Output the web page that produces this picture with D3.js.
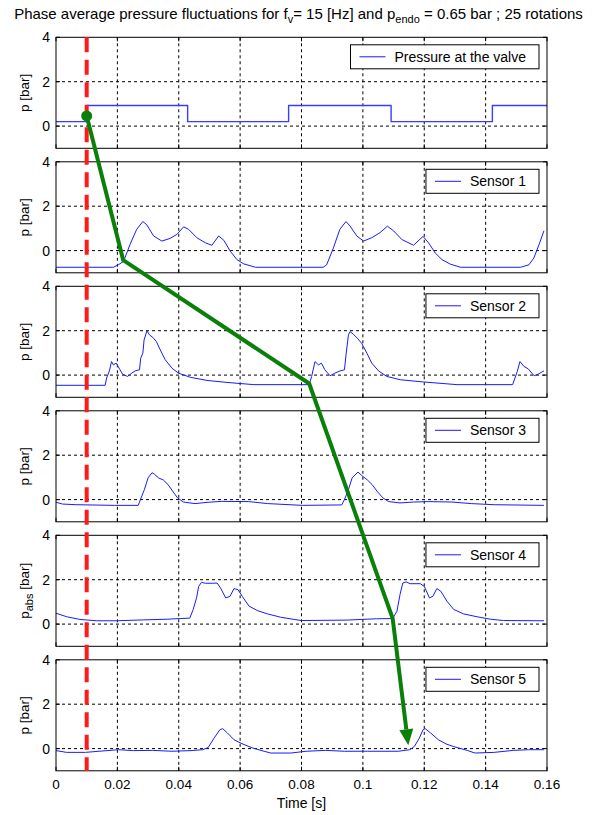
<!DOCTYPE html>
<html>
<head>
<meta charset="utf-8">
<script src="https://cdn.jsdelivr.net/npm/d3@7"></script>
<style>
  body { margin: 0; background: #fff; }
  text { font-family: "Liberation Sans", Arial, Helvetica, sans-serif; fill: #000; }
</style>
</head>
<body>
<svg id="chart" width="600" height="815"></svg>
<script>
// ---- data -------------------------------------------------------------
const timeTicks = [0, 0.02, 0.04, 0.06, 0.08, 0.1, 0.12, 0.14, 0.16];
const timeTickLabels = ["0", "0.02", "0.04", "0.06", "0.08", "0.1", "0.12", "0.14", "0.16"];
const pressureTicks = [0, 2, 4];
const pressureTickLabels = ["0", "2", "4"];
const legendNames = ["Pressure at the valve", "Sensor 1", "Sensor 2", "Sensor 3", "Sensor 4", "Sensor 5"];

// valve command (step signal) [time s, pressure bar]
const valve = [[0, 0.2], [0.0102, 0.93], [0.0429, 0.2], [0.0758, 0.93], [0.1092, 0.2], [0.1422, 0.93], [0.16, 0.93]];

const sensor1 = [[0, -0.75], [0.0187, -0.75], [0.0203, -0.64], [0.022, -0.49], [0.0241, 0.27], [0.0263, 0.96],
  [0.0283, 1.31], [0.0296, 1.16], [0.0318, 0.66], [0.0345, 0.43], [0.0372, 0.55], [0.0394, 0.73],
  [0.0416, 1.07], [0.0432, 0.96], [0.0459, 0.58], [0.0487, 0.35], [0.0508, 0.24], [0.053, 0.66],
  [0.0547, 0.46], [0.0568, -0.03], [0.059, -0.41], [0.0612, -0.6], [0.065, -0.75], [0.0871, -0.75],
  [0.0882, -0.64], [0.0904, 0.12], [0.0925, 0.96], [0.0945, 1.31], [0.0958, 1.11], [0.098, 0.66],
  [0.1002, 0.43], [0.1029, 0.58], [0.1056, 0.81], [0.108, 1.1], [0.11, 0.89], [0.1127, 0.5],
  [0.1165, 0.24], [0.1196, 0.64], [0.1214, 0.35], [0.1236, -0.11], [0.1258, -0.41], [0.1285, -0.61],
  [0.1318, -0.75], [0.1514, -0.75], [0.1541, -0.64], [0.1557, -0.34], [0.1574, 0.27], [0.159, 0.89]];

const sensor2 = [[0, -0.46], [0.016, -0.46], [0.0165, -0.13], [0.0174, 0.19], [0.0181, 0.61], [0.0187, 0.46],
  [0.0196, 0.54], [0.0207, 0.28], [0.0217, 0.04], [0.0233, -0.06], [0.0247, 0.09], [0.0258, 0.19],
  [0.0272, 0.24], [0.0276, 0.76], [0.0283, 0.99], [0.0287, 1.58], [0.0296, 1.99], [0.0305, 1.81],
  [0.0316, 1.69], [0.0327, 1.51], [0.034, 1.13], [0.0356, 0.69], [0.0378, 0.31], [0.0399, 0.09],
  [0.0438, -0.1], [0.0492, -0.24], [0.0557, -0.33], [0.0645, -0.43], [0.0825, -0.43], [0.0833, -0.06],
  [0.0844, 0.61], [0.0855, 0.46], [0.0865, 0.54], [0.0876, 0.24], [0.0893, -0.03], [0.0909, 0.09],
  [0.0926, 0.19], [0.094, 0.24], [0.0945, 0.91], [0.0953, 1.81], [0.0958, 1.96], [0.0969, 1.84],
  [0.0982, 1.66], [0.0996, 1.43], [0.1013, 0.99], [0.1029, 0.54], [0.1051, 0.19], [0.1078, -0.06],
  [0.1122, -0.21], [0.1198, -0.31], [0.1307, -0.43], [0.1488, -0.43], [0.1503, 0.16], [0.1512, 0.61],
  [0.1525, 0.39], [0.1539, 0.28], [0.1558, -0.03], [0.1571, 0.04], [0.159, 0.19]];

const sensor3 = [[0, -0.12], [0.0021, -0.2], [0.0065, -0.23], [0.019, -0.26], [0.0268, -0.26], [0.0275, 0],
  [0.0288, 0.45], [0.03, 0.98], [0.0313, 1.21], [0.0321, 1.14], [0.0334, 0.98], [0.035, 0.88],
  [0.0365, 0.68], [0.038, 0.38], [0.0396, 0.08], [0.0415, -0.11], [0.0453, -0.18], [0.0496, -0.12],
  [0.054, -0.08], [0.0628, -0.09], [0.069, -0.18], [0.0803, -0.26], [0.0931, -0.24], [0.094, 0],
  [0.0953, 0.45], [0.0965, 0.98], [0.0984, 1.24], [0.0996, 1.09], [0.1015, 0.88], [0.103, 0.68],
  [0.1046, 0.38], [0.1065, 0.08], [0.1084, -0.09], [0.1121, -0.15], [0.1165, -0.11], [0.1215, -0.09],
  [0.129, -0.11], [0.1353, -0.18], [0.1428, -0.23], [0.159, -0.26]];

const sensor4 = [[0, 0.49], [0.0035, 0.33], [0.0078, 0.21], [0.0133, 0.15], [0.0198, 0.15], [0.0286, 0.19],
  [0.0362, 0.22], [0.0405, 0.25], [0.0436, 0.27], [0.0447, 0.66], [0.0458, 1.18], [0.0465, 1.7],
  [0.0474, 1.88], [0.0487, 1.84], [0.0509, 1.84], [0.0525, 1.85], [0.0536, 1.63], [0.0553, 1.18],
  [0.0567, 1.25], [0.058, 1.6], [0.0593, 1.55], [0.0607, 1.25], [0.0629, 0.81], [0.0656, 0.61],
  [0.0689, 0.46], [0.0732, 0.31], [0.0776, 0.21], [0.08, 0.16], [0.0947, 0.18], [0.1045, 0.24],
  [0.1097, 0.25], [0.1111, 0.58], [0.1121, 1.33], [0.113, 1.85], [0.1141, 1.9], [0.1154, 1.82],
  [0.1187, 1.82], [0.12, 1.7], [0.1217, 1.18], [0.1228, 1.25], [0.1241, 1.6], [0.1254, 1.48],
  [0.1274, 1.03], [0.1296, 0.66], [0.1328, 0.46], [0.1372, 0.33], [0.1416, 0.22], [0.1459, 0.16],
  [0.159, 0.15]];

const sensor5 = [[0, -0.09], [0.0034, -0.17], [0.0096, -0.17], [0.014, -0.12], [0.0203, -0.05], [0.0253, -0.09],
  [0.0315, -0.08], [0.0378, -0.12], [0.044, -0.09], [0.0478, -0.05], [0.0496, 0.05], [0.0515, 0.47],
  [0.0534, 0.85], [0.0543, 0.9], [0.0559, 0.7], [0.058, 0.4], [0.0603, 0.24], [0.064, 0.03],
  [0.0678, -0.12], [0.07, -0.2], [0.0765, -0.2], [0.0815, -0.12], [0.0878, -0.08], [0.094, -0.12],
  [0.1015, -0.12], [0.1115, -0.12], [0.1153, -0.05], [0.1168, 0.1], [0.1184, 0.47], [0.1196, 0.85],
  [0.1203, 0.9], [0.1221, 0.7], [0.1246, 0.4], [0.1271, 0.21], [0.1296, 0.09], [0.134, -0.08],
  [0.1365, -0.2], [0.1428, -0.17], [0.149, -0.08], [0.154, -0.05], [0.159, -0.05]];

const series = [valve, sensor1, sensor2, sensor3, sensor4, sensor5];

// vertical marker time and the propagation path [time, panel, pressure]
const markerTime = 0.01;
const pathPoints = [[0.01, 0, 0.46], [0.0219, 1, -0.43], [0.0825, 2, -0.38], [0.1097, 4, 0.26], [0.1148, 5, 0.15]];

// ---- layout -----------------------------------------------------------
const svg = d3.select("#chart");
const left = 56, right = 547;
const firstTop = 37.3, step = 124.5, panelH = 111;
const x = d3.scaleLinear().domain([0, 0.16]).range([left, right]);
const yScales = series.map((_, i) => d3.scaleLinear().domain([-1, 4])
  .range([firstTop + i * step + panelH, firstTop + i * step]));

const line = (ys) => d3.line().x(d => x(d[0])).y(d => ys(d[1]));

series.forEach((data, i) => {
  const y = yScales[i];
  const top = y(4), bottom = y(-1);
  const g = svg.append("g");

  // dotted grid
  g.append("g").selectAll("line").data(timeTicks.slice(1, -1)).join("line")
    .attr("x1", d => x(d)).attr("x2", d => x(d)).attr("y1", top).attr("y2", bottom)
    .attr("stroke", "#000").attr("stroke-width", 1).attr("stroke-dasharray", "3,3");
  g.append("g").selectAll("line").data(pressureTicks.slice(0, -1)).join("line")
    .attr("x1", left).attr("x2", right).attr("y1", d => y(d)).attr("y2", d => y(d))
    .attr("stroke", "#000").attr("stroke-width", 1).attr("stroke-dasharray", "3,3");

  // inward ticks on all four sides
  const tl = 4;
  timeTicks.forEach(t => {
    g.append("line").attr("x1", x(t)).attr("x2", x(t)).attr("y1", bottom).attr("y2", bottom - tl).attr("stroke", "#000");
    g.append("line").attr("x1", x(t)).attr("x2", x(t)).attr("y1", top).attr("y2", top + tl).attr("stroke", "#000");
  });
  pressureTicks.forEach(p => {
    g.append("line").attr("x1", left).attr("x2", left + tl).attr("y1", y(p)).attr("y2", y(p)).attr("stroke", "#000");
    g.append("line").attr("x1", right).attr("x2", right - tl).attr("y1", y(p)).attr("y2", y(p)).attr("stroke", "#000");
  });

  // y tick labels
  g.append("g").selectAll("text").data(pressureTicks).join("text")
    .attr("x", left - 6).attr("y", d => y(d) + 5)
    .attr("text-anchor", "end").attr("font-size", 14)
    .text((d, k) => pressureTickLabels[k]);

  // y label
  const yl = g.append("text")
    .attr("transform", `translate(29,${(top + bottom) / 2}) rotate(-90)`)
    .attr("text-anchor", "middle").attr("font-size", 13.5);
  if (i === 4) {
    yl.append("tspan").text("p");
    yl.append("tspan").attr("dy", 4).attr("font-size", 11).text("abs");
    yl.append("tspan").attr("dy", -4).text(" [bar]");
  } else {
    yl.text("p [bar]");
  }

  // data curve
  g.append("path").datum(data)
    .attr("d", i === 0 ? line(y).curve(d3.curveStepAfter) : line(y))
    .attr("fill", "none").attr("stroke", i === 0 ? "#3b3bff" : "#1a1aff")
    .attr("stroke-width", i === 0 ? 1.4 : 1).attr("stroke-linejoin", "round");

  // axes box
  g.append("rect").attr("x", left).attr("y", top).attr("width", right - left).attr("height", bottom - top)
    .attr("fill", "none").attr("stroke", "#000").attr("stroke-width", 1);

  // legend
  const lg = g.append("g");
  const txt = lg.append("text").attr("font-size", 14).text(legendNames[i]);
  const tw = txt.node().getComputedTextLength();
  const bw = 44 + tw + 13, bh = 24;
  const bx = right - 8 - bw, by = top + 7.5;
  lg.insert("rect", "text").attr("x", bx).attr("y", by).attr("width", bw).attr("height", bh)
    .attr("fill", "#fff").attr("stroke", "#000").attr("stroke-width", 1);
  lg.append("line").attr("x1", bx + 9).attr("x2", bx + 35).attr("y1", by + bh / 2).attr("y2", by + bh / 2)
    .attr("stroke", "#1a1aff").attr("stroke-width", 1);
  txt.attr("x", bx + 44).attr("y", by + bh / 2 + 5);
});

// x tick labels and axis title on the bottom panel
const lastBottom = yScales[5](-1);
svg.append("g").selectAll("text").data(timeTicks).join("text")
  .attr("x", d => x(d)).attr("y", lastBottom + 18)
  .attr("text-anchor", "middle").attr("font-size", 13.5)
  .text((d, k) => timeTickLabels[k]);
svg.append("text").attr("x", (left + right) / 2).attr("y", lastBottom + 37)
  .attr("text-anchor", "middle").attr("font-size", 14).text("Time [s]");

// title
const title = svg.append("text").attr("x", (left + right) / 2 - 3).attr("y", 19)
  .attr("text-anchor", "middle").attr("font-size", 15);
title.append("tspan").text("Phase average pressure fluctuations for f");
title.append("tspan").attr("dy", 4).attr("font-size", 11).text("v");
title.append("tspan").attr("dy", -4).text("= 15 [Hz] and p");
title.append("tspan").attr("dy", 4).attr("font-size", 11).text("endo");
title.append("tspan").attr("dy", -4).text(" = 0.65 bar ; 25 rotations");

// red dashed marker
svg.append("line")
  .attr("x1", x(markerTime)).attr("x2", x(markerTime))
  .attr("y1", yScales[0](4)).attr("y2", lastBottom)
  .attr("stroke", "#ff1a1a").attr("stroke-width", 4).attr("stroke-dasharray", "15,7.5");

// green propagation path with arrow
const px = d => x(d[0]), py = d => yScales[d[1]](d[2]);
const pts = pathPoints.map(d => [px(d), py(d)]);
const last = pts[pts.length - 1], prev = pts[pts.length - 2];
const ang = Math.atan2(last[1] - prev[1], last[0] - prev[0]);
const headLen = 16, headW = 7;
const base = [last[0] - headLen * Math.cos(ang), last[1] - headLen * Math.sin(ang)];
svg.append("path")
  .attr("d", d3.line()(pts.slice(0, -1).concat([base])))
  .attr("fill", "none").attr("stroke", "#0a800a").attr("stroke-width", 4).attr("stroke-linejoin", "round");
svg.append("path")
  .attr("d", d3.line()([
    last,
    [base[0] + headW * Math.sin(ang), base[1] - headW * Math.cos(ang)],
    [base[0] - headW * Math.sin(ang), base[1] + headW * Math.cos(ang)]
  ]) + "Z")
  .attr("fill", "#0a800a");
svg.append("circle").attr("cx", pts[0][0]).attr("cy", pts[0][1]).attr("r", 5.5).attr("fill", "#0a800a");
</script>
</body>
</html>
